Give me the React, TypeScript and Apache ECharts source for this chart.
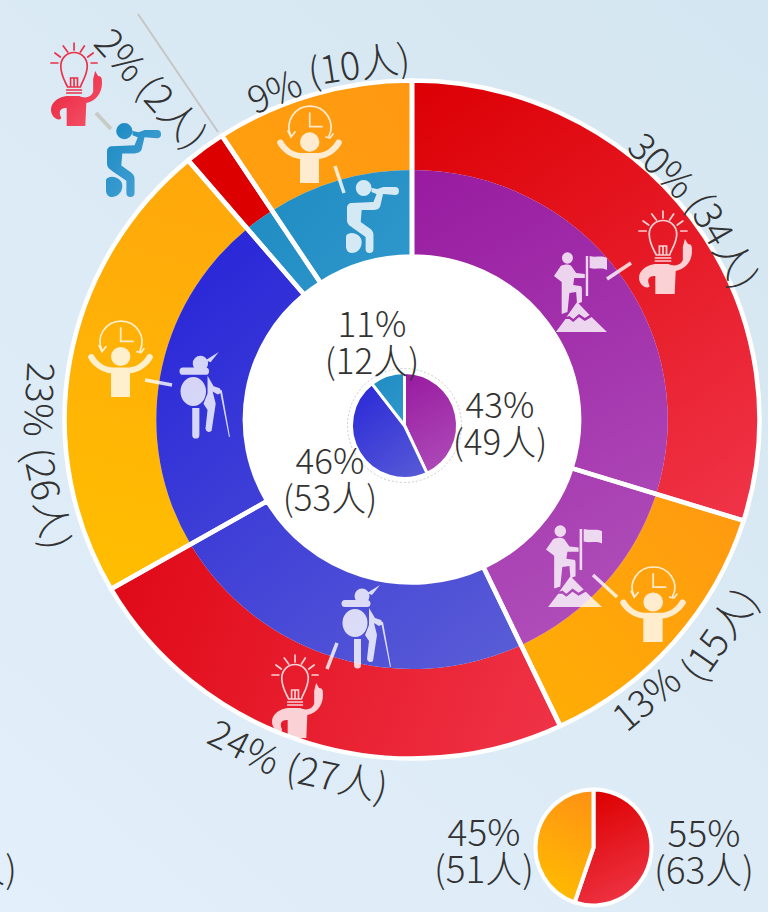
import React, { useEffect, useRef } from "react";
import * as echarts from "echarts";

// ---------- data ----------
const outerCounts = [34, 15, 27, 26, 2, 10];
const outerPercents = [30, 13, 24, 23, 2, 9];
// slice sizes as drawn in the picture (its left slices are not exactly proportional to the counts)
const sliceWeights = [34, 15, 27, 25.3, 2.2, 10.5];
const outerRamps = ["red30", "orange13", "red24", "orange23", "red2", "orange9"];
const innerRamps = ["purple", "purple", "blue", "blue", "teal", "teal"];
const centreCounts = [49, 53, 12];
const centrePercents = [43, 46, 11];
const centreRamps = ["miniPurple", "miniBlue", "miniTeal"];
const sideCounts = [63, 51];
const sidePercents = [55, 45];
const sideRamps = ["miniRed", "miniOrange"];

// ---------- layout ----------
const CX = 412;
const CY = 419.5;
const STRETCH = 1.025; // the rings are slightly wider than they are tall
const LX = 412.5;
const LY = 420;
const FONT = '"Noto Sans CJK SC", "Noto Sans", sans-serif';
const TEXT = "#333333";

type Ramp = [string, string, number, number, number, number];
const ramps: Record<string, Ramp> = {
  red30: ["#dc0004", "#f03448", 420, 85, 740, 520],
  red24: ["#e00a18", "#f03448", 120, 590, 560, 760],
  red2: ["#dc0000", "#dc0000", 190, 140, 270, 225],
  orange9: ["#ff9812", "#ffa00e", 410, 85, 230, 200],
  orange13: ["#ff9a10", "#ffae05", 740, 530, 530, 720],
  orange23: ["#ffa80c", "#ffbe00", 200, 170, 110, 590],
  purple: ["#981ba0", "#b04fba", 420, 170, 660, 600],
  blue: ["#2a28d8", "#5a5dd6", 190, 280, 520, 660],
  teal: ["#1f8cc2", "#2f97cc", 270, 180, 400, 280],
  miniPurple: ["#981ba0", "#b04fba", 405, 375, 457, 475],
  miniBlue: ["#2a28d8", "#5a5dd6", 355, 385, 430, 478],
  miniTeal: ["#1f8cc2", "#2f97cc", 370, 375, 404, 420],
  miniRed: ["#dc0000", "#f03a4c", 595, 792, 650, 904],
  miniOrange: ["#ff9114", "#ffbf00", 593, 792, 537, 900],
};
const grad = (name: string) => {
  const r = ramps[name];
  return {
    type: "linear", x: r[2], y: r[3], x2: r[4], y2: r[5], global: true,
    colorStops: [{ offset: 0, color: r[0] }, { offset: 1, color: r[1] }],
  };
};

// ---------- icon shapes (drawn in pixel-sized local boxes) ----------
const shapes: Record<string, string> = {
  bulbFill:
    "M17 53 L30 53 C36 56 42 54 44 49 L44 36 L46 28 L49 33 C53 33 53 36 53 40 C53 50 47 58 37 60 L36 83 L17 83 L17 65 C13 65 10 66 10 70 C10 73 12 74 11 76 C7 78 1 73 1 67 C1 58 10 54 17 53 Z",
  bulbLine:
    "M24.5 0 L24.5 7 M13.5 3 L18 9 M35 3 L31 9 M5 10 L10.5 14 M44 10 L38.5 14 M1 20 L8 20 M42 20 L48 20 M18 44 C15 38 11 32 11 23 A13.5 13.5 0 0 1 38 23 C38 32 33 38 31 44 Z M17 47 L32 47 M17 50 L32 50 M21 43 L21 35 L28 35 L28 43 M24.5 43 L24.5 35",
  clockFill:
    "M0 38 C0 35 4 33 6 36 C10 43 17 48 24 48 L41 48 C48 48 55 43 59 36 C61 33 65 35 65 38 C61 46 52 53 42 54 L42 78 L23 78 L23 54 C13 53 4 46 0 38 Z M23 37 A9.7 9.7 0 1 1 42.4 37 A9.7 9.7 0 1 1 23 37 Z",
  clockLine:
    "M14 31 A21 21 0 1 1 52 31 M11 26 L14 32 L18 27 M49 32 L53 33 L56 29 M32.7 8 L32.7 21.7 L45 21.7",
  climberFill:
    "M9.3 6 A5.7 5.7 0 1 1 20.7 6 A5.7 5.7 0 1 1 9.3 6 Z M8 14 C12 12 17 12 19 14 L24 21 L33 22 L33 26 L22 26 L21 33 L28 34 C30 34 30 36 30 38 L30 50 L25 52 L24 40 L17 41 L15 60 L9 62 L9 30 L1 24 Z M34 4 L36.5 4 L36.5 44 L34 44 Z M38 4 C44 6 50 3 56 6 L56 18 C50 15 44 18 38 16 Z M25 50 L38 63 L33 66 L27 62 L21 67 L17 64 L14 65 Z M3 80 L13 67 L17 67 L21 70 L27 65 L33 69 L40 65 L56 80 Z",
  hikerFill:
    "M12.5 11 A7.5 7.5 0 1 1 27.5 11 A7.5 7.5 0 1 1 12.5 11 Z M25 8 L38 0 L30 10 Z M3 15 L25 15 A3.5 3.5 0 0 1 25 22 L3 22 A3.5 3.5 0 0 1 3 15 Z M0.5 38 A12.5 14 0 1 1 25.5 38 A12.5 14 0 1 1 0.5 38 Z M12 54 L19 54 L19 80 A3.5 3.5 0 0 1 12 80 Z M27 23 L33 33 L39 35 L41 39 L37 41 L32 38 L35 50 L31 76 A3.5 3.5 0 0 1 25 74 L27 56 L23 50 L27 40 Z M39 37 L41 37 L49 82 L48 82 Z",
  binocFill:
    "M10 8 A8 8 0 1 1 26 8 A8 8 0 1 1 10 8 Z M26 8 L32 9 L38 7 L50 7 A4 4 0 0 1 50 15 L38 14 L31 14 L26 12 Z M6 23 L28 22 L32 12 L38 13 L35 26 C34 29 31 30 28 30 L16 30 L15 42 L25 49 C27 51 28 52 28 55 L28 69 A4 4 0 0 1 20 69 L20 57 L7 48 C5 46 1 45 1 40 L1 28 C1 25 3 23 6 23 Z M0 56 C4 50 16 54 16 62 C16 70 10 73 6 73 C2 73 0 70 0 66 Z",
};
Object.keys(shapes).forEach((k) =>
  echarts.graphic.registerShape(k, echarts.graphic.extendPath(shapes[k], {}))
);
const natural: Record<string, [number, number, string[]]> = {
  bulb: [53, 83, ["bulbFill", "bulbLine"]],
  clock: [65, 78, ["clockFill", "clockLine"]],
  climber: [56, 81, ["climberFill"]],
  hiker: [49, 82, ["hikerFill"]],
  binoc: [54, 73, ["binocFill"]],
};
const PALE = "rgba(255,255,255,0.8)";
const redIcon = {
  type: "linear", x: 0, y: 0, x2: 1, y2: 1,
  colorStops: [{ offset: 0, color: "#e8203a" }, { offset: 1, color: "#f5566c" }],
};
const blueIcon = {
  type: "linear", x: 0, y: 0, x2: 1, y2: 1,
  colorStops: [{ offset: 0, color: "#1787c0" }, { offset: 1, color: "#50a8da" }],
};
const iconPlaces: [string, number, number, number, number, any][] = [
  ["bulb", 638, 211, 692, 294, PALE],
  ["clock", 620, 566, 686, 642, PALE],
  ["bulb", 271, 655, 323, 738, PALE],
  ["clock", 88, 320, 153, 397, PALE],
  ["clock", 277, 105, 342, 183, PALE],
  ["binoc", 346, 180, 399, 253, PALE],
  ["climber", 553, 252, 607, 333, PALE],
  ["climber", 545, 525, 602, 608, PALE],
  ["hiker", 180, 352, 230, 437, PALE],
  ["hiker", 342, 585, 391, 667, PALE],
  ["bulb", 50, 43, 102, 126, redIcon],
  ["binoc", 106, 123, 161, 197, blueIcon],
];
const tickPlaces: [number, number, number, number, string, number][] = [
  [607, 279, 631, 263, PALE, 3.5],
  [593, 575, 617, 597, PALE, 3.5],
  [327, 669, 337, 643, PALE, 3.5],
  [145, 380, 172, 385, PALE, 3.5],
  [335, 166, 344, 193, PALE, 3.5],
  [96, 113, 111, 129, "#c9c9c6", 4],
  [138, 14, 218, 132, "#c6c6c4", 2],
];

// curved labels: text is split at its space; each piece sits on the arc
// [segment index, piece index, clock angle, radius]
const arcPlaces: [number, number, number, number][] = [
  [0, 0, 44.4, 359],
  [0, 1, 60, 361],
  [1, 0, 140, 361],
  [1, 1, 125, 372],
  [2, 0, 207.2, 365],
  [2, 1, 191.9, 363],
  [3, 0, 273.1, 371],
  [3, 1, 257.9, 371],
  [5, 0, 337.2, 359],
  [5, 1, 351.4, 362],
];

const arcText = (seg: number, part: number, a: number, r: number) => {
  const s = `${outerPercents[seg]}% (${outerCounts[seg]}人)`.split(" ")[part];
  const rad = (a * Math.PI) / 180;
  const head = a < 90 || a > 300;
  const deg = head ? a : a - 180;
  return {
    type: "text",
    x: LX + r * Math.sin(rad),
    y: LY - r * Math.cos(rad),
    rotation: (-deg * Math.PI) / 180,
    z: 30,
    silent: true,
    style: { text: s, fill: TEXT, font: `300 38px ${FONT}`, textAlign: "center", textVerticalAlign: "middle" },
  };
};

const flatText = (s: string, x: number, y: number, size = 35, align = "center") => ({
  type: "text",
  x,
  y,
  z: 30,
  silent: true,
  style: { text: s, fill: TEXT, font: `300 ${size}px ${FONT}`, lineHeight: 37, textAlign: align, textVerticalAlign: "middle" },
});

const two = (p: number, n: number) => `${p}%\n(${n}人)`;

const base = {
  type: "pie",
  silent: true,
  animation: false,
  clockwise: true,
  startAngle: 90,
  avoidLabelOverlap: false,
  label: { show: false },
  labelLine: { show: false },
  emphasis: { disabled: true },
};

export default function App() {
  const ringRef = useRef<HTMLDivElement>(null);
  const topRef = useRef<HTMLDivElement>(null);
  useEffect(() => {
    document.body.style.margin = "0";
    const rings = echarts.init(ringRef.current!, null, { renderer: "svg" });
    const chart = echarts.init(topRef.current!, null, { renderer: "svg" });
    rings.setOption({
      animation: false,
      series: [
        {
          ...base, name: "outer", center: [CX, CY], radius: [249.5, 339], z: 2,
          data: sliceWeights.map((value, i) => ({ value, itemStyle: { color: grad(outerRamps[i]) } })),
        },
        {
          ...base, name: "inner", center: [CX, CY], radius: [163, 249.5], z: 2,
          data: sliceWeights.map((value, i) => ({ value, itemStyle: { color: grad(innerRamps[i]) } })),
        },
        {
          ...base, name: "dividers", center: [CX, CY], radius: [163, 339], z: 3,
          itemStyle: { color: "rgba(0,0,0,0)", borderColor: "#ffffff", borderWidth: 4.5 },
          data: sliceWeights.map((value) => ({ value })),
        },
      ],
      graphic: {
        elements: [
          { type: "circle", z: 1, silent: true, shape: { cx: CX, cy: CY, r: 165 }, style: { fill: "#ffffff" } },
        ],
      },
    });
    const icons: any[] = [];
    iconPlaces.forEach(([kind, x0, y0, x1, y1, fill]) => {
      const [w, h, parts] = natural[kind];
      parts.forEach((p) => {
        const isLine = p.endsWith("Line");
        icons.push({
          type: p,
          x: x0,
          y: y0,
          scaleX: (x1 - x0) / w,
          scaleY: (y1 - y0) / h,
          z: 20,
          silent: true,
          style: isLine
            ? { fill: "none", stroke: fill === PALE ? PALE : "#ec3048", lineWidth: 1.7, lineCap: "round" }
            : { fill },
        });
      });
    });
    const ticks = tickPlaces.map(([x1, y1, x2, y2, c, lw]) => ({
      type: "line",
      z: 19,
      silent: true,
      shape: { x1, y1, x2, y2 },
      style: { stroke: c, lineWidth: lw },
    }));
    chart.setOption({
      animation: false,
      series: [
        {
          ...base, name: "centre", center: [404.5, 425.5], radius: [0, 53], z: 4,
          itemStyle: { borderColor: "#ffffff", borderWidth: 3 },
          data: centreCounts.map((value, i) => ({ value, itemStyle: { color: grad(centreRamps[i]) } })),
        },
        {
          ...base, name: "side", center: [593.5, 847.5], radius: [0, 58], z: 4,
          itemStyle: { borderColor: "#ffffff", borderWidth: 4 },
          data: sideCounts.map((value, i) => ({ value, itemStyle: { color: grad(sideRamps[i]) } })),
        },
      ],
      graphic: {
        elements: [
          {
            type: "circle", z: 5, silent: true, shape: { cx: 404.5, cy: 425.5, r: 57 },
            style: { fill: "none", stroke: "#cccccc", lineWidth: 1, lineDash: [2, 2] },
          },
          ...ticks,
          ...icons,
          ...arcPlaces.map(([s, p, a, r]) => arcText(s, p, a, r)),
          {
            type: "text", x: 153, y: 87, rotation: (-48 * Math.PI) / 180, z: 30, silent: true,
            style: {
              text: `${outerPercents[4]}% (${outerCounts[4]}人)`, fill: TEXT,
              font: `300 38px ${FONT}`, textAlign: "center", textVerticalAlign: "middle",
            },
          },
          flatText(two(centrePercents[2], centreCounts[2]), 372, 340),
          flatText(two(centrePercents[0], centreCounts[0]), 500, 421),
          flatText(two(centrePercents[1], centreCounts[1]), 330, 477),
          flatText(two(sidePercents[1], sideCounts[1]), 484, 848, 37),
          flatText(two(sidePercents[0], sideCounts[0]), 704, 849, 37),
          flatText("人)", 17, 867, 37, "right"),
        ],
      },
    });
    return () => {
      rings.dispose();
      chart.dispose();
    };
  }, []);
  return (
    <div
      style={{
        width: 768, height: 912, position: "absolute", left: 0, top: 0, overflow: "hidden",
        background: "linear-gradient(220deg, #d4e6f1 0%, #e3effa 100%)",
      }}
    >
      <div
        ref={ringRef}
        style={{
          width: 768, height: 912, position: "absolute", left: 0, top: 0,
          transform: `scaleX(${STRETCH})`, transformOrigin: `${CX}px 0px`,
        }}
      />
      <div ref={topRef} style={{ width: 768, height: 912, position: "absolute", left: 0, top: 0 }} />
    </div>
  );
}
